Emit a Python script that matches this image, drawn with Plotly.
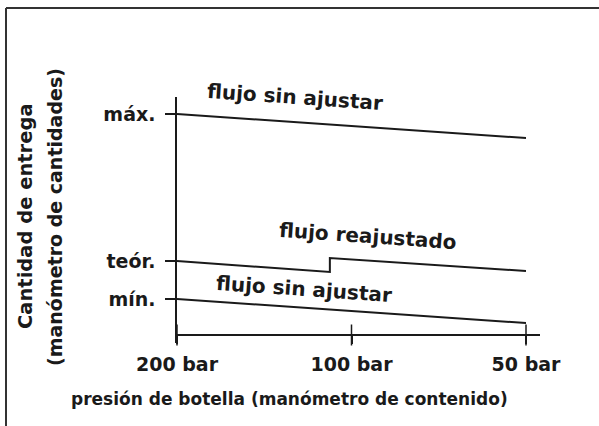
import plotly.graph_objects as go

# ---- data ----
x_tickvals = [0, 1, 2]
x_ticktext = ["200 bar", "100 bar", "50 bar"]
y_tickvals = [221, 74, 36]
y_ticktext = ["máx.", "teór.", "mín."]

top_x = [0, 2]
top_y = [221, 197]
mid_x = [0, 0.876, 0.876, 2]
mid_y = [74, 63, 77, 64]
low_x = [0, 2]
low_y = [36, 12]

labels = ["flujo sin ajustar", "flujo reajustado", "flujo sin ajustar"]

W, H = 599, 426
FONT = "DejaVu Sans"
INK = "#1a1a1a"


def px(x):
    return x / W


def py(y):
    return 1 - y / H


line_style = dict(color=INK, width=2)

fig = go.Figure()
for xs, ys in [(top_x, top_y), (mid_x, mid_y), (low_x, low_y)]:
    fig.add_trace(go.Scatter(x=xs, y=ys, mode="lines", line=line_style,
                             hoverinfo="skip", showlegend=False))

# crossing tick marks on x axis
fig.add_trace(go.Scatter(x=x_tickvals, y=[0] * len(x_tickvals), mode="markers",
                         marker=dict(symbol="line-ns", size=15,
                                     line=dict(color=INK, width=1.5)),
                         hoverinfo="skip", showlegend=False, cliponaxis=False))

frame = dict(color="#333333", width=2)
fig.update_layout(
    width=W, height=H,
    margin=dict(l=0, r=0, t=0, b=0, autoexpand=False),
    paper_bgcolor="white", plot_bgcolor="white",
    font=dict(family=FONT, color=INK, size=18),
    xaxis=dict(domain=[px(177), px(540)], range=[0, (540 - 177) / 174.5],
               anchor="free", position=py(335), automargin=False,
               showline=True, linecolor=INK, linewidth=1.5,
               showgrid=False, zeroline=False,
               tickvals=x_tickvals, ticktext=x_ticktext,
               ticks="outside", ticklen=8, tickcolor=INK, tickwidth=1.5,
               ticklabelstandoff=4,
               tickfont=dict(family=FONT, size=19, color=INK, weight="bold")),
    yaxis=dict(domain=[py(343), py(97)], range=[-8, 238], automargin=False,
               showline=True, linecolor=INK, linewidth=1.5,
               showgrid=False, zeroline=False,
               tickvals=y_tickvals, ticktext=y_ticktext,
               ticks="outside", ticklen=10, tickcolor=INK, tickwidth=1.5,
               ticklabelstandoff=6,
               tickfont=dict(family=FONT, size=19, color=INK, weight="bold")),
    shapes=[
        dict(type="line", xref="paper", yref="paper",
             x0=px(6), y0=py(8), x1=1, y1=py(8), line=frame),
        dict(type="line", xref="paper", yref="paper",
             x0=px(6), y0=py(8), x1=px(6), y1=0, line=frame),
    ],
)

ann_font = dict(family=FONT, size=20, color=INK, weight="bold")
for text, (cx, cy) in zip(labels, [(295, 97), (368, 236), (304, 289)]):
    fig.add_annotation(x=px(cx), y=py(cy), xref="paper", yref="paper",
                       text=text, showarrow=False, textangle=4,
                       xanchor="center", yanchor="middle", font=ann_font)

fig.add_annotation(x=px(289), y=py(399), xref="paper", yref="paper",
                   text="presión de botella (manómetro de contenido)",
                   showarrow=False, xanchor="center", yanchor="middle",
                   font=dict(family=FONT, size=17, color=INK, weight="bold"))

fig.add_annotation(x=px(25), y=py(216), xref="paper", yref="paper",
                   text="Cantidad de entrega", textangle=-90,
                   showarrow=False, xanchor="center", yanchor="middle",
                   font=dict(family=FONT, size=19.5, color=INK, weight="bold"))
fig.add_annotation(x=px(55), y=py(217), xref="paper", yref="paper",
                   text="(manómetro de cantidades)", textangle=-90,
                   showarrow=False, xanchor="center", yanchor="middle",
                   font=dict(family=FONT, size=19, color=INK, weight="bold"))

fig.write_html("out.html",
               config={"displayModeBar": False},
               post_script="document.body.style.margin='0';")
